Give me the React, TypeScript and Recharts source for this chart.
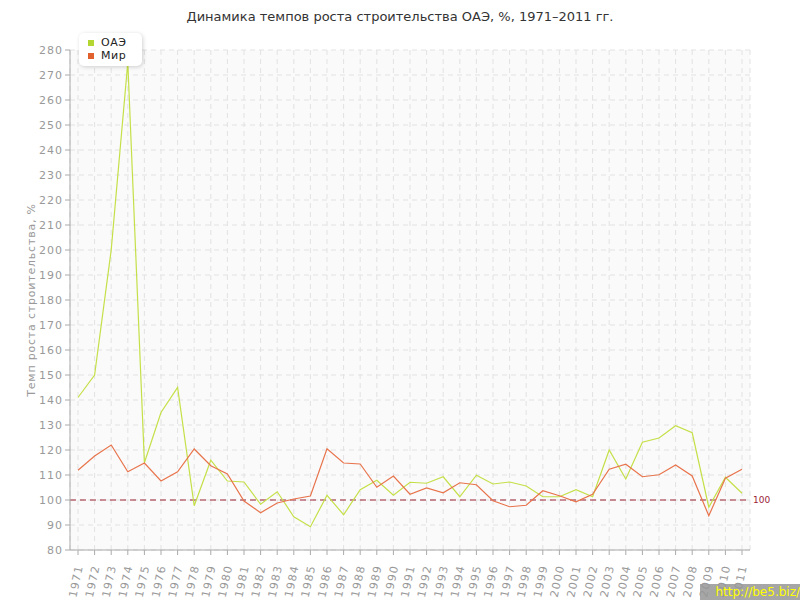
import React from 'react';
import { LineChart, Line, XAxis, YAxis, CartesianGrid, ReferenceLine } from 'recharts';

const years = [
  '1971', '1972', '1973', '1974', '1975', '1976', '1977', '1978', '1979', '1980',
  '1981', '1982', '1983', '1984', '1985', '1986', '1987', '1988', '1989', '1990',
  '1991', '1992', '1993', '1994', '1995', '1996', '1997', '1998', '1999', '2000',
  '2001', '2002', '2003', '2004', '2005', '2006', '2007', '2008', '2009', '2010', '2011',
];

const uae = [
  141, 150, 200, 275, 114.9, 135, 145, 97.7, 115.9, 107.6,
  107.2, 98.3, 103.3, 93.3, 89.3, 101.9, 94.1, 104.1, 107.9, 101.9,
  107.1, 106.7, 109.3, 101.3, 109.9, 106.4, 107.2, 105.6, 101.3, 101.3,
  104.1, 101.3, 120, 108.4, 123.1, 124.8, 129.7, 126.9, 97.1, 109.1, 102.7,
];

const world = [
  111.9, 117.6, 122, 111.3, 114.8, 107.6, 111.3, 120.4, 113.7, 110.4,
  99.6, 94.9, 98.8, 100.4, 101.6, 120.5, 114.8, 114.4, 105.1, 109.6,
  102.3, 104.8, 102.9, 106.9, 106.1, 99.7, 97.3, 97.9, 103.7, 101.7,
  99.3, 102.3, 112.3, 114.3, 109.3, 110.1, 114, 109.6, 93.7, 108.7, 112.3,
];

const yTicks = [80, 90, 100, 110, 120, 130, 140, 150, 160, 170, 180, 190, 200, 210, 220, 230, 240, 250, 260, 270, 280];

const series = [
  { key: 'uae', name: 'ОАЭ', color: '#c4e048', swatch: '#b3d630' },
  { key: 'world', name: 'Мир', color: '#e8744c', swatch: '#e0602e' },
];

const data = years.map((year, i) => ({ year, uae: uae[i], world: world[i] }));

const font = '"DejaVu Sans", Verdana, sans-serif';

const YearTick = (props: any) => {
  const { x, y, payload } = props;
  return (
    <text
      x={0}
      y={0}
      transform={`translate(${x + 5},${y + 9}) rotate(-78)`}
      textAnchor="end"
      fontSize={11}
      fill="#999"
      fontFamily={font}
      letterSpacing={1.2}
    >
      {payload.value}
    </text>
  );
};

export default function App() {
  return (
    <div style={{ position: 'absolute', left: 0, top: 0, width: 800, height: 600, background: '#fff', fontFamily: font }}>
      <div style={{ position: 'absolute', top: 9, left: 0, width: 800, textAlign: 'center', fontSize: 13, color: '#333' }}>
        Динамика темпов роста строительства ОАЭ, %, 1971–2011 гг.
      </div>
      <LineChart width={800} height={600} data={data} margin={{ top: 50, right: 50, left: 0, bottom: 0 }}>
        <CartesianGrid stroke="#e2e2e2" strokeDasharray="5 4" fill="#fafafa" />
        <XAxis
          dataKey="year"
          interval={0}
          height={50}
          padding={{ left: 8, right: 8 }}
          axisLine={{ stroke: '#aaa' }}
          tickLine={{ stroke: '#aaa' }}
          tickSize={5}
          tick={<YearTick />}
        />
        <YAxis
          width={70}
          domain={[80, 280]}
          ticks={yTicks}
          interval={0}
          axisLine={{ stroke: '#aaa' }}
          tickLine={{ stroke: '#aaa' }}
          tickSize={5}
          tick={{ fontSize: 11, fill: '#999', fontFamily: font, letterSpacing: 1 }}
          label={{
            value: 'Темп роста строительства, %',
            angle: -90,
            position: 'insideLeft',
            dx: 26,
            style: { textAnchor: 'middle', fontSize: 11, fill: '#999', fontFamily: font, letterSpacing: 0.8 },
          }}
        />
        <YAxis yAxisId="right" orientation="right" width={0} domain={[80, 280]} tick={false} tickLine={false} axisLine={{ stroke: '#ddd' }} />
        <ReferenceLine
          y={100}
          stroke="#9b2335"
          strokeDasharray="6 4"
          label={{ value: '100', position: 'right', fill: '#9b2335', fontSize: 9, fontFamily: font, offset: 3 }}
        />
        {series.map((s) => (
          <Line
            key={s.key}
            type="linear"
            dataKey={s.key}
            name={s.name}
            stroke={s.color}
            strokeWidth={1.2}
            dot={false}
            isAnimationActive={false}
          />
        ))}
      </LineChart>
      <div
        style={{
          position: 'absolute',
          left: 79,
          top: 33,
          padding: '3px 16px 4px 9px',
          background: '#fff',
          borderRadius: 5,
          boxShadow: '1px 1px 4px rgba(0,0,0,0.18)',
          fontSize: 11,
          color: '#222',
          lineHeight: '13px',
          letterSpacing: 0.5,
        }}
      >
        {series.map((s) => (
          <div key={s.key} style={{ display: 'flex', alignItems: 'center' }}>
            <span style={{ display: 'inline-block', width: 6, height: 6, background: s.swatch, marginRight: 7 }} />
            {s.name}
          </div>
        ))}
      </div>
      <div
        style={{
          position: 'absolute',
          left: 700,
          top: 584,
          width: 100,
          height: 16,
          background: 'rgba(150,150,150,0.85)',
          color: '#ffff00',
          fontSize: 12,
          lineHeight: '16px',
          textAlign: 'right',
        }}
      >
        http://be5.biz/
      </div>
    </div>
  );
}
